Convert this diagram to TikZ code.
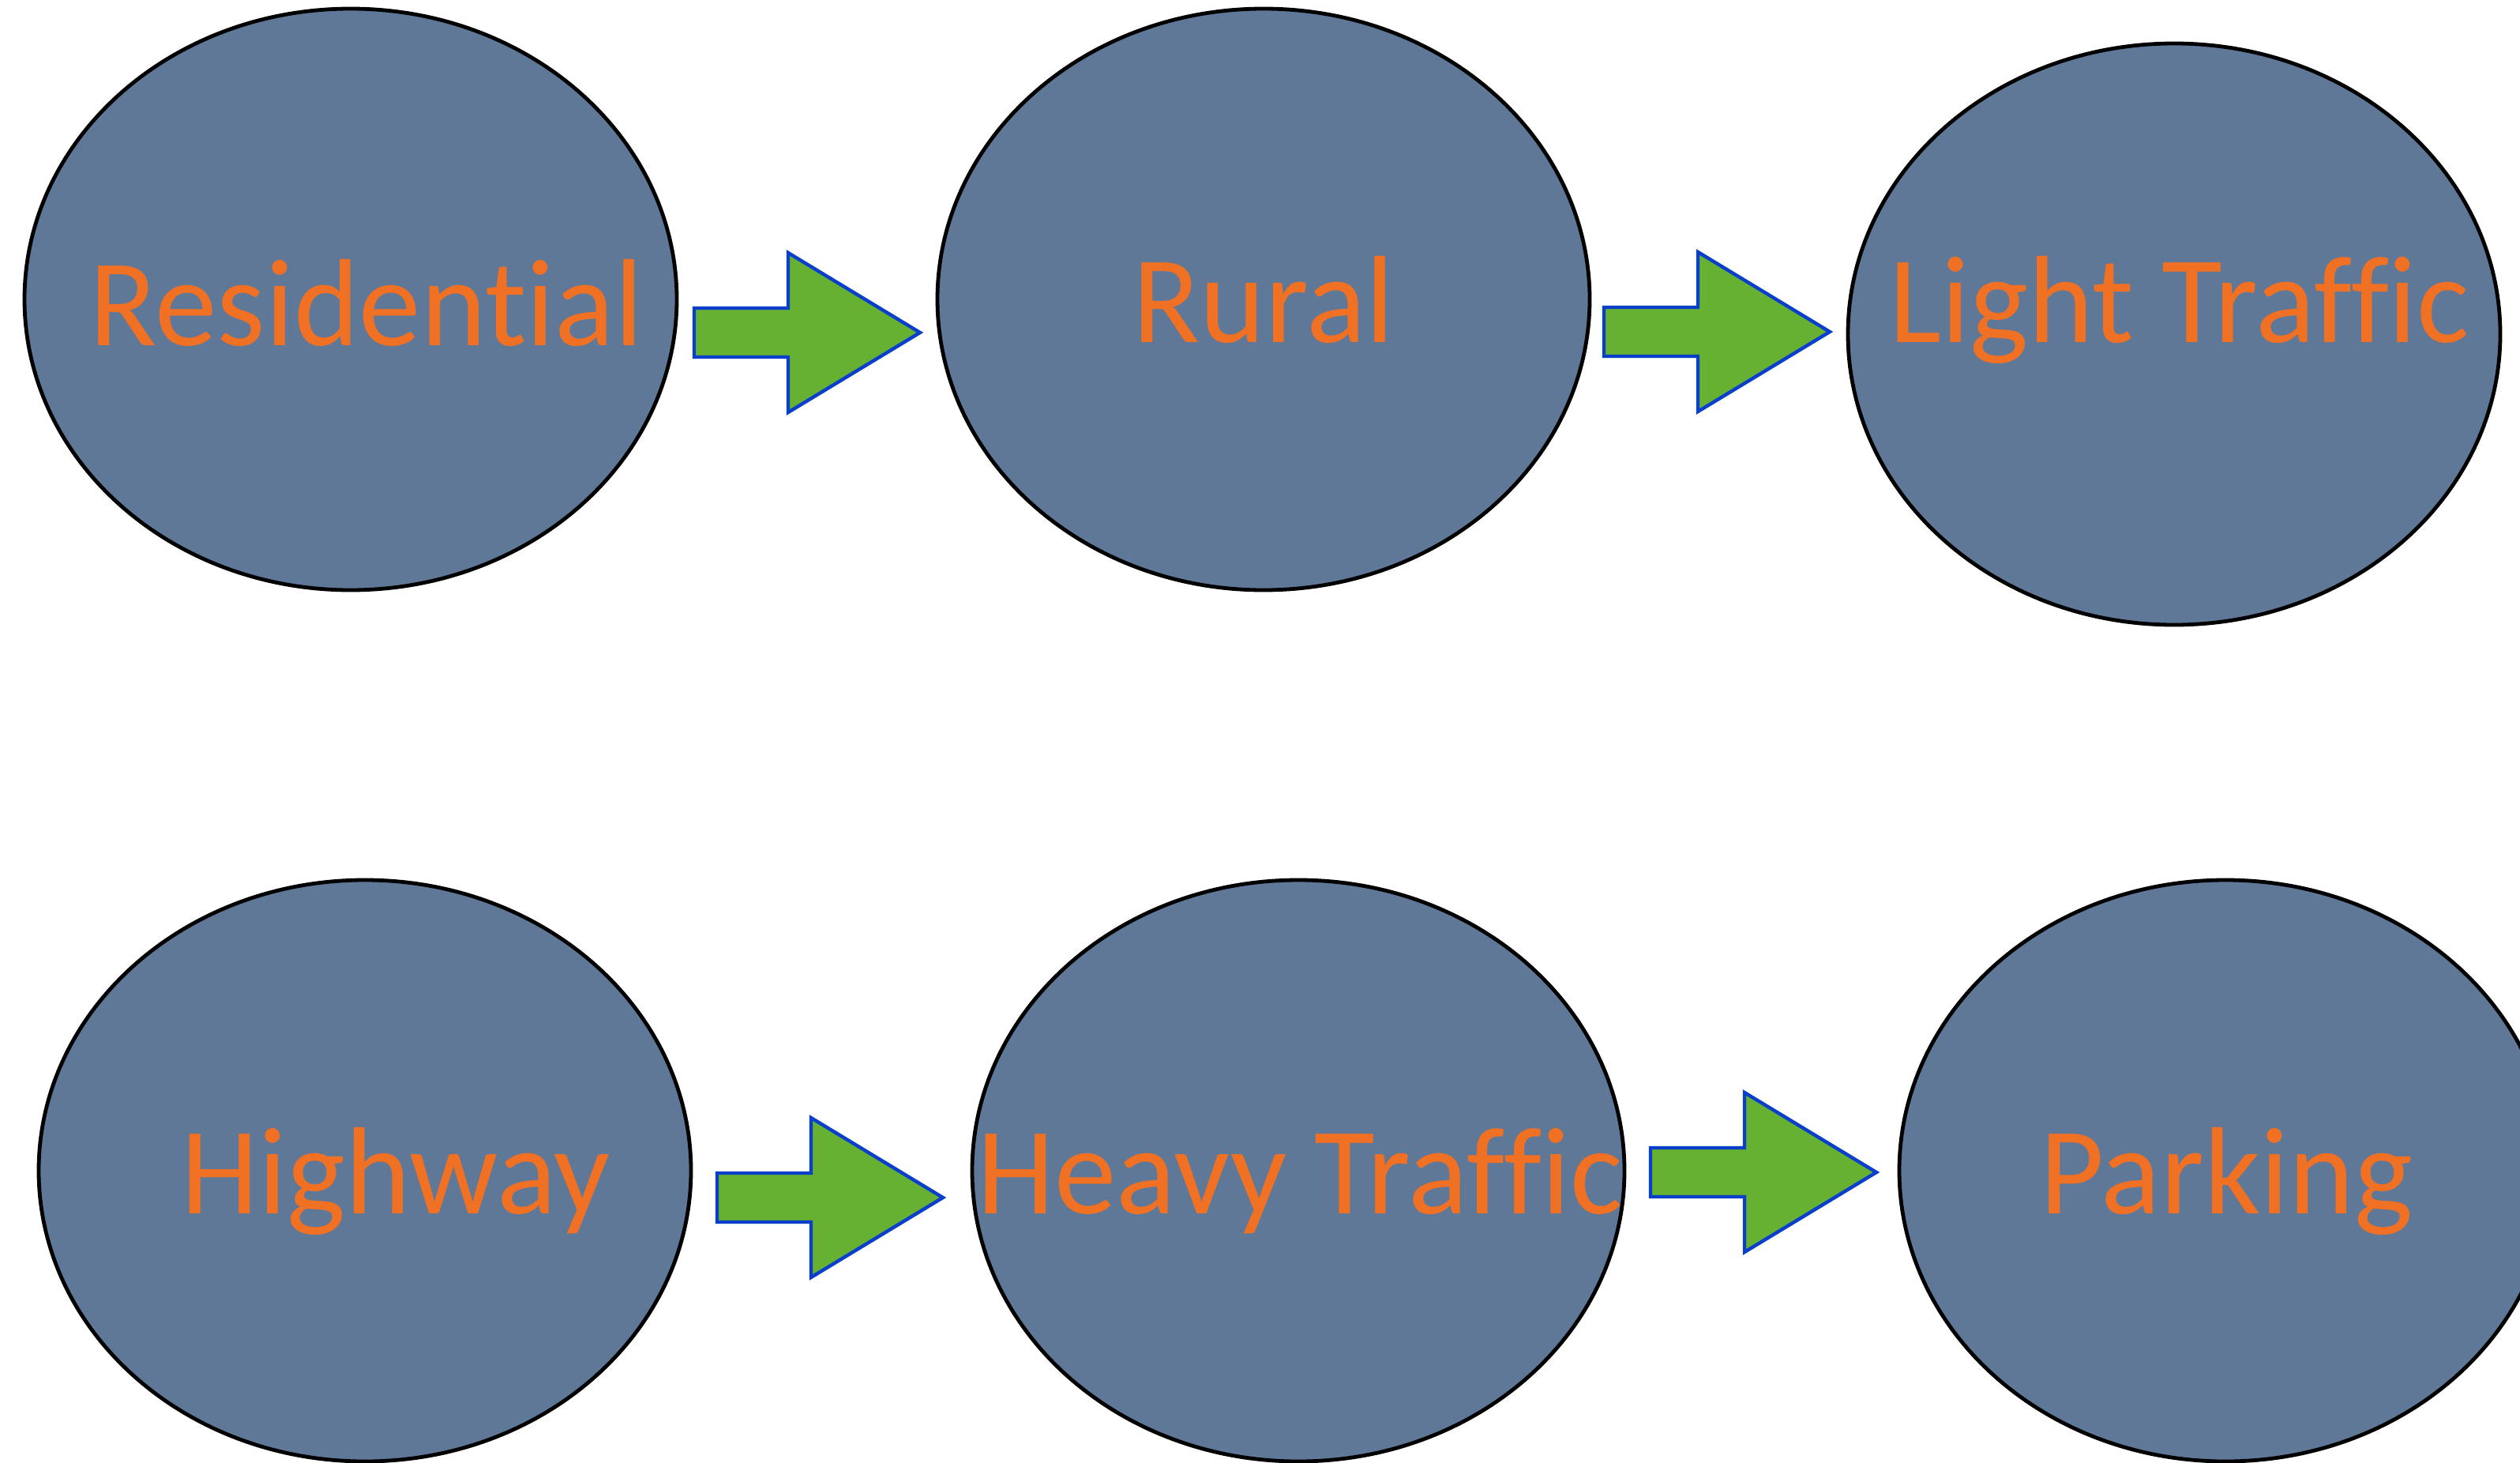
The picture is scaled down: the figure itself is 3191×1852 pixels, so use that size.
\documentclass[tikz,border=0pt]{standalone}
\usepackage{fontspec}
\setmainfont{Carlito}[Ligatures={NoCommon}]
\usetikzlibrary{shapes.geometric}
\definecolor{zonefill}{HTML}{5F7898}
\definecolor{zonetext}{HTML}{F07024}
\definecolor{arrowfill}{HTML}{66B032}
\definecolor{arrowline}{HTML}{0A3FCC}
\begin{document}
\begin{tikzpicture}[x=0.25pt,y=-0.25pt,
  zone/.style={ellipse, draw=black, line width=1.2pt, fill=zonefill,
    inner sep=0pt, minimum width=206.5pt, minimum height=184pt},
  zonelabel/.style={anchor=base, text=zonetext, inner sep=0pt,
    font=\fontsize{39.3}{41}\selectfont},
  flowshape/.style={fill=arrowfill, draw=arrowline, line width=1.1pt, line join=miter},
  flowarrow/.pic={
    \path[flowshape] (0,-31) -- (119,-31) -- (119,-101) -- (286,0)
      -- (119,101) -- (119,31) -- (0,31) -- cycle;
  }]
\useasboundingbox (0,0) rectangle (3191,1852);

% top row
\node[zone] (res) at (444,379) {};
\node[zone] (rur) at (1600,379) {};
\node[zone] (lgt) at (2753,423) {};
% bottom row
\node[zone] (hwy) at (462,1482) {};
\node[zone] (hvy) at (1644,1482) {};
\node[zone] (prk) at (2818,1482) {};

% labels
\node[zonelabel] (resT) at (464,437) {Residential};
\node[zonelabel] (rurT) at (1600,433) {Rural};
\node[zonelabel] (lgtT) at (2760,433) {Light Traffic};
\node[zonelabel] (hwyT) at (501,1536) {Highway};
\node[zonelabel] (hvyT) at (1646,1536) {Heavy Traffic};
\node[zonelabel] (prkT) at (2819,1536) {Parking};

% block arrows between zones
\coordinate (a1) at (879,421);
\coordinate (a2) at (2031,420);
\coordinate (a3) at (908,1516);
\coordinate (a4) at (2090,1484);
\pic at (a1) {flowarrow};
\pic at (a2) {flowarrow};
\pic at (a3) {flowarrow};
\pic at (a4) {flowarrow};
\end{tikzpicture}
\end{document}
